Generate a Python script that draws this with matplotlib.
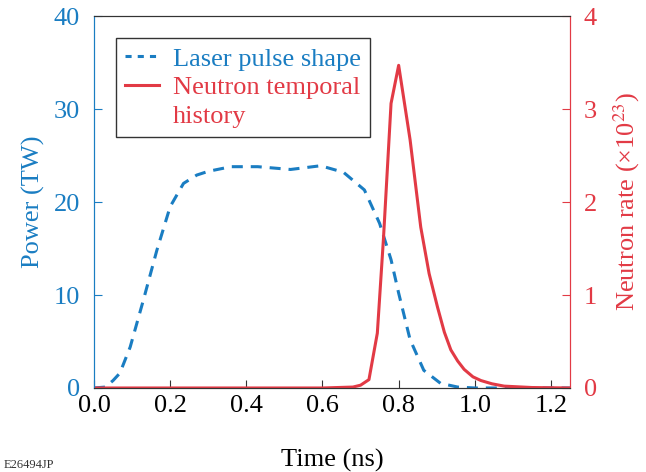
import matplotlib
matplotlib.use("Agg")
import matplotlib.pyplot as plt
from matplotlib.lines import Line2D

# Laser pulse shape (Power, TW)
t_laser = [0.0, 0.03, 0.05, 0.068, 0.095, 0.13, 0.165, 0.2, 0.235, 0.27, 0.3, 0.36, 0.43,
           0.516, 0.595, 0.655, 0.71, 0.75, 0.78, 0.80, 0.83, 0.866, 0.91, 0.955, 1.0, 1.25]
p_laser = [0.0, 0.1, 0.8, 1.6, 4.4, 9.5, 14.8, 19.5, 22.0, 22.9, 23.3, 23.8, 23.8,
           23.5, 23.9, 23.2, 21.3, 17.7, 13.8, 10.2, 5.2, 1.9, 0.5, 0.1, 0.0, 0.0]

# Neutron temporal history (x1e23)
t_neut = [0.0, 0.6, 0.68, 0.70, 0.722, 0.744, 0.76, 0.78, 0.80, 0.83, 0.858, 0.88,
          0.902, 0.92, 0.937, 0.955, 0.972, 0.995, 1.016, 1.045, 1.077, 1.15, 1.25]
n_neut = [0.0, 0.0, 0.01, 0.03, 0.09, 0.59, 1.6, 3.06, 3.47, 2.67, 1.73, 1.23,
          0.87, 0.6, 0.41, 0.29, 0.2, 0.12, 0.08, 0.045, 0.02, 0.005, 0.0]

blue = "#1a7dc2"
red = "#e23a45"

plt.rcParams['font.family'] = ['Liberation Serif', 'DejaVu Serif']
plt.rcParams['mathtext.fontset'] = 'stix'

fig = plt.figure(figsize=(6.46, 4.72), dpi=100)
ax = fig.add_axes([0.1455, 0.178, 0.7369, 0.788])
ax2 = ax.twinx()

l1, = ax.plot(t_laser, p_laser, color=blue, lw=2.2, ls=(0, (3.6, 2.6)))
l2, = ax2.plot(t_neut, n_neut, color=red, lw=2.2)

ax.set_xlim(0, 1.25)
ax.set_ylim(0, 40)
ax2.set_ylim(0, 4)
ax.set_xticks([0.0, 0.2, 0.4, 0.6, 0.8, 1.0, 1.2])
ax.set_xticklabels(["0.0", "0.2", "0.4", "0.6", "0.8", "1.0", "1.2"])
ax.set_yticks([0, 10, 20, 30, 40])
ax2.set_yticks([0, 1, 2, 3, 4])

fs = 19
ax.tick_params(axis='x', direction='in', length=6, labelsize=fs, colors='#333333', labelcolor='black', pad=5)
ax.tick_params(axis='y', direction='in', length=6, labelsize=fs, colors=blue, pad=10)
ax2.tick_params(axis='y', direction='in', length=6, labelsize=fs, colors=red, pad=10)

for a in (ax, ax2):
    a.spines['left'].set_color(blue)
    a.spines['right'].set_color(red)
    a.spines['top'].set_color('#333333')
    a.spines['bottom'].set_color('#333333')

ax.set_xlabel("Time (ns)", fontsize=fs, labelpad=23)
ax.set_ylabel("Power (TW)", fontsize=fs, color=blue, labelpad=6)
ax2.set_ylabel("Neutron rate (×10$^{23}$)", fontsize=fs, color=red, labelpad=10)

h1 = Line2D([], [], color=blue, lw=2.2, ls=(0, (2.0, 2.0)))
h2 = Line2D([], [], color=red, lw=2.2)
h3 = Line2D([], [], color='none', lw=0)
leg = ax.legend(handles=[h1, h2, h3], labels=["Laser pulse shape", "Neutron temporal", "history"],
                loc='upper left', bbox_to_anchor=(0.046, 0.941),
                fontsize=fs, frameon=True, fancybox=False, edgecolor='black',
                handlelength=1.3, handletextpad=0.5, borderpad=0.35, labelspacing=0.2,
                borderaxespad=0.0)
leg.get_frame().set_linewidth(1.0)
for txt, c in zip(leg.get_texts(), [blue, red, red]):
    txt.set_color(c)

fig.text(0.005, 0.002, "E26494JP", fontsize=9, color='#333333', ha='left', va='bottom')

fig.savefig("out.png", dpi=100)
